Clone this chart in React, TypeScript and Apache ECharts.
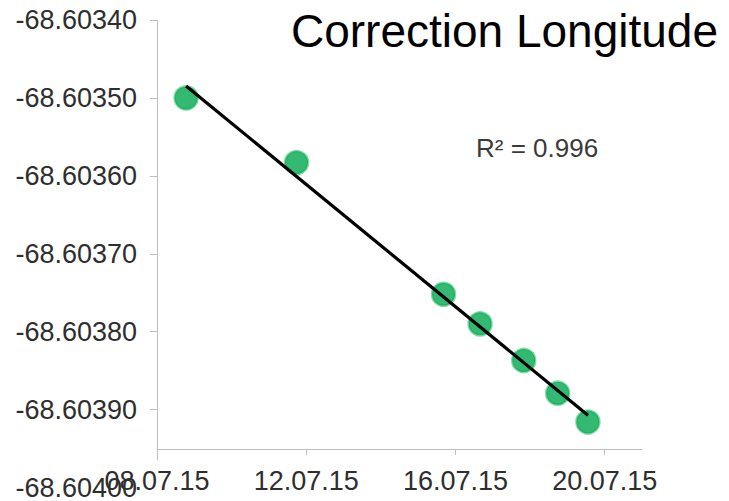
import React, { useEffect, useRef } from 'react';
import * as echarts from 'echarts';

// Measurement dates (day of July 2015) and corrected longitudes
const dayOfJuly = [8.78, 11.74, 15.68, 16.66, 17.83, 18.74, 19.55];
const longitude = [-68.6035, -68.603583, -68.603752, -68.60379, -68.603837, -68.603879, -68.603916];

// Axis ticks
const xTickDays = [8, 12, 16, 20];
const yTicks = [-68.6034, -68.6035, -68.6036, -68.6037, -68.6038, -68.6039, -68.604];

const titleText = 'Correction Longitude';
const r2Text = 'R² = 0.996';

function linearFit(xs: number[], ys: number[]) {
  const n = xs.length;
  const y0 = ys[0];
  const mx = xs.reduce((a, b) => a + b, 0) / n;
  const my = ys.reduce((a, b) => a + (b - y0), 0) / n;
  let sxy = 0;
  let sxx = 0;
  for (let i = 0; i < n; i++) {
    sxy += (xs[i] - mx) * (ys[i] - y0 - my);
    sxx += (xs[i] - mx) * (xs[i] - mx);
  }
  const slope = sxy / sxx;
  return (x: number) => y0 + my + slope * (x - mx);
}

export default function App() {
  const ref = useRef<HTMLDivElement>(null);

  useEffect(() => {
    if (!ref.current) return;
    const chart = echarts.init(ref.current, undefined, { renderer: 'svg' });
    const f = linearFit(dayOfJuly, longitude);
    const xFirst = dayOfJuly[0];
    const xLast = dayOfJuly[dayOfJuly.length - 1];
    const points = dayOfJuly.map((d, i) => [d, longitude[i]]);
    const trend = [
      [xFirst, f(xFirst)],
      [xLast, f(xLast)],
    ];
    const font = 'Liberation Sans, Arial, sans-serif';
    const axisColor = '#bfbfbf';
    const labelColor = '#2e2e2e';

    chart.setOption({
      animation: false,
      backgroundColor: '#ffffff',
      title: [
        {
          text: titleText,
          right: 6,
          top: 3,
          textStyle: { fontSize: 46, fontWeight: 'normal', color: '#000000', fontFamily: font },
        },
        {
          text: r2Text,
          left: 471,
          top: 130,
          textStyle: { fontSize: 26, fontWeight: 'normal', color: '#3a3a3a', fontFamily: font },
        },
      ],
      grid: { left: 157, right: 87, top: 20, bottom: 10.5 },
      xAxis: {
        type: 'value',
        min: 8,
        max: 21,
        interval: 4,
        offset: -38.5,
        splitLine: { show: false },
        axisLine: { show: true, lineStyle: { color: axisColor, width: 1 } },
        axisTick: { show: true, length: 6, customValues: xTickDays.slice(1), lineStyle: { color: axisColor } },
        axisLabel: {
          customValues: xTickDays,
          margin: 18,
          fontSize: 27,
          color: labelColor,
          fontFamily: font,
          formatter: (v: number) => String(Math.round(v)).padStart(2, '0') + '.07.15',
        },
      },
      yAxis: {
        type: 'value',
        min: yTicks[yTicks.length - 1],
        max: yTicks[0],
        interval: 0.0001,
        splitLine: { show: false },
        axisLine: { show: false },
        axisTick: { show: true, length: 7, customValues: yTicks.slice(0, -1), lineStyle: { color: axisColor } },
        axisLabel: {
          customValues: yTicks,
          margin: 20,
          fontSize: 27,
          color: labelColor,
          fontFamily: font,
          formatter: (v: number) => v.toFixed(5),
        },
      },
      series: [
        {
          type: 'scatter',
          data: points,
          symbol: 'circle',
          symbolSize: 23,
          itemStyle: {
            color: '#00a84e',
            borderColor: 'rgba(0,176,80,0.6)',
            borderWidth: 2.5,
          },
          markLine: {
            silent: true,
            symbol: ['none', 'none'],
            label: { show: false },
            lineStyle: { color: axisColor, width: 1, type: 'solid' },
            data: [[{ coord: [8, yTicks[0]] }, { coord: [8, -68.603965] }]],
          },
          z: 2,
        },
        {
          type: 'line',
          data: trend,
          symbol: 'none',
          lineStyle: { color: '#000000', width: 3.2 },
          z: 3,
        },
      ],
    });
    return () => chart.dispose();
  }, []);

  return (
    <div
      ref={ref}
      style={{ position: 'fixed', left: 0, top: 0, width: 729, height: 501, background: '#fff' }}
    />
  );
}
